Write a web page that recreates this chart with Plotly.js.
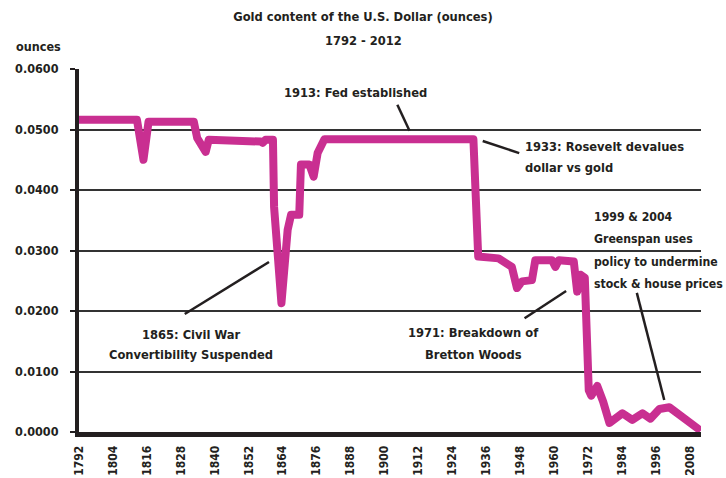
<!DOCTYPE html>
<html>
<head>
<meta charset="utf-8">
<script src="https://cdn.plot.ly/plotly-3.0.1.min.js"></script>
<style>
html,body{margin:0;padding:0;background:#fff;}
#chart{width:726px;height:478px;}
.scatterlayer path.js-line{stroke-linejoin:round;stroke-linecap:round;}
</style>
</head>
<body>
<div id="chart"></div>
<script>
// Gold content of the U.S. dollar (ounces)
var years = [1792, 1812.5, 1814.8, 1816.6, 1832.6, 1833.8, 1836.8, 1837.9, 1856.3, 1857, 1858, 1860.6,
  1861, 1863.6, 1865.8, 1867, 1869.9, 1870.5, 1873.5, 1875, 1876.4, 1878.8, 1931.5, 1933.2,
  1940.4, 1945.1, 1946.9, 1948.7, 1952.2, 1953.4, 1959.3, 1960.5, 1961.7, 1967, 1968.2, 1969.4,
  1970.9, 1972.3, 1973.2, 1975.3, 1977.4, 1979.6, 1984.2, 1987.7, 1991.3, 1994.1, 1997.3, 2000.8, 2010.8];
var ounces = [0.0516, 0.0516, 0.0450, 0.0513, 0.0513, 0.0486, 0.0463, 0.0483, 0.0480, 0.0478, 0.0483, 0.0483,
  0.0372, 0.0213, 0.0334, 0.0359, 0.0359, 0.0442, 0.0442, 0.0422, 0.0461, 0.0484, 0.0484, 0.0290,
  0.0287, 0.0273, 0.0238, 0.0249, 0.0251, 0.0284, 0.0284, 0.0273, 0.0284, 0.0282, 0.0232, 0.0260,
  0.0255, 0.0069, 0.0060, 0.0076, 0.0050, 0.0015, 0.0031, 0.0020, 0.0031, 0.0022, 0.0038, 0.0041, 0.0006];

var xTicks = [];
for (var t = 1792; t <= 2008; t += 12) xTicks.push(t);
var yTicks = [0, 0.01, 0.02, 0.03, 0.04, 0.05, 0.06];

var titleLines = ["Gold content of the U.S. Dollar (ounces)", "1792 - 2012"];

// Annotation text lines and their positions (year, ounces)
var noteLines = ["1913: Fed established",
  "1933: Rosevelt devalues", "dollar vs gold",
  "1999 & 2004", "Greenspan uses", "policy to undermine", "stock & house prices",
  "1971: Breakdown of", "Bretton Woods",
  "1865: Civil War", "Convertibility Suspended"];
var noteX = [1889.7, 1948.9, 1948.9, 1973.4, 1973.4, 1973.4, 1973.4, 1931.6, 1931.6, 1831.7, 1831.7];
var noteY = [0.0561, 0.0472, 0.04367, 0.0356, 0.0319, 0.0281, 0.0244, 0.01637, 0.01274, 0.01616, 0.01274];
var noteAnchor = ["center", "left", "left", "left", "left", "left", "left", "center", "center", "center", "center"];
var noteSize = [12.8, 12.8, 12.8, 12.2, 12.2, 12.2, 12.2, 12.8, 12.8, 12.8, 12.8];
// Pointer lines (year0, val0, year1, val1)
var ptrX0 = [1904.6, 1934.8, 1989.3, 1949.6, 1829.4];
var ptrY0 = [0.0541, 0.0481, 0.0230, 0.0188, 0.0195];
var ptrX1 = [1908.9, 1947.7, 1999.0, 1964.3, 1859.2];
var ptrY1 = [0.0498, 0.0461, 0.0053, 0.0233, 0.0281];

var FONT = "'DejaVu Sans Condensed', 'Liberation Sans Narrow', sans-serif";
var TXT = "#231f20";

var annotations = noteLines.map(function (s, i) {
  return {x: noteX[i], y: noteY[i], xref: "x", yref: "y", text: "<b>" + s + "</b>", showarrow: false,
    xanchor: noteAnchor[i], yanchor: "middle", align: noteAnchor[i],
    font: {family: FONT, size: noteSize[i], color: TXT}};
});
annotations.push({x: -0.1045, y: 1.0607, xref: "paper", yref: "paper", text: "<b>ounces</b>", showarrow: false,
  xanchor: "left", yanchor: "middle", font: {family: FONT, size: 12.5, color: TXT}});
annotations.push({x: 0.4566, y: 1.0772, xref: "paper", yref: "paper", text: "<b>" + titleLines[1] + "</b>",
  showarrow: false, xanchor: "center", yanchor: "middle", font: {family: FONT, size: 12.8, color: TXT}});

var shapes = ptrX0.map(function (x0, i) {
  return {type: "line", xref: "x", yref: "y", x0: x0, y0: ptrY0[i], x1: ptrX1[i], y1: ptrY1[i],
    line: {color: "#231f20", width: 2.5}};
});

var trace = {x: years, y: ounces, type: "scatter", mode: "lines",
  line: {color: "#c92f91", width: 8}, hoverinfo: "skip"};

var layout = {
  width: 726, height: 478,
  margin: {l: 79, r: 25, t: 69, b: 46},
  paper_bgcolor: "#fff", plot_bgcolor: "#fff",
  showlegend: false,
  title: {text: "<b>" + titleLines[0] + "</b>", xref: "container", x: 0.5,
    yref: "container", y: 1 - 17 / 478, yanchor: "middle", xanchor: "center",
    font: {family: FONT, size: 12.8, color: TXT}},
  xaxis: {range: [1792, 2012], tickvals: xTicks, ticktext: xTicks.map(String), tickangle: -90,
    showgrid: false, zeroline: false, showline: true, linecolor: "#231f20", linewidth: 5,
    ticks: "", ticklabelstandoff: 4, tickfont: {family: FONT, size: 12, color: TXT, weight: "bold"}},
  yaxis: {range: [0, 0.06], tickvals: yTicks, tickformat: ".4f", showgrid: true, gridcolor: "#333",
    gridwidth: 2, zeroline: false, showline: true, linecolor: "#231f20", linewidth: 4,
    ticks: "outside", ticklen: 5, tickwidth: 2, tickcolor: "#231f20", ticklabelstandoff: 9,
    tickfont: {family: FONT, size: 12.5, color: TXT, weight: "bold"}},
  annotations: annotations,
  shapes: shapes
};

Plotly.newPlot("chart", [trace], layout, {staticPlot: true, displayModeBar: false});
</script>
</body>
</html>
